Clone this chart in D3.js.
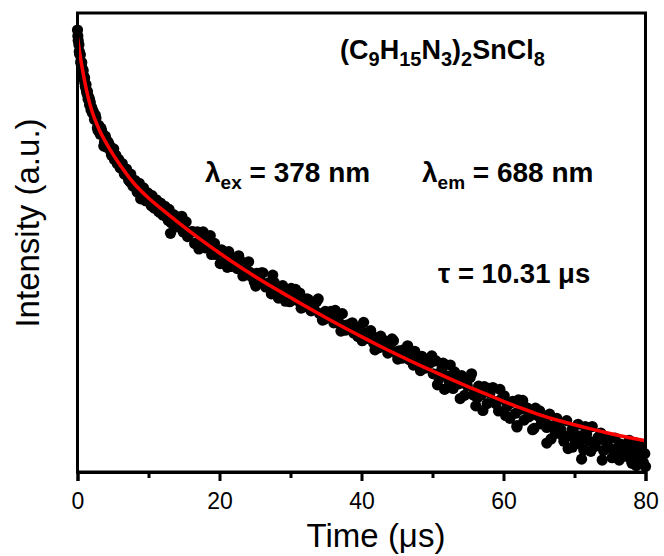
<!DOCTYPE html>
<html><head><meta charset="utf-8">
<script src="https://cdn.jsdelivr.net/npm/d3@7"></script>
<style>body{margin:0;background:#fff}svg{display:block}</style>
</head><body>
<svg id="c" width="664" height="556"></svg>
<script>
// ---------- data ----------
const xTicks = [0, 20, 40, 60, 80];
const xMinorTicks = [10, 30, 50, 70];
const xLabel = "Time (\u03bcs)";
const yLabel = "Intensity (a.u.)";

// fitted decay curve (time in µs, intensity in a.u.)
const fitTime = [0,0.5,1,1.5,2,3,4,5,6,8,10,12,14,16,18,20,22,25,28,30,32,35,38,40,42,45,48,50,52,55,58,60,62,65,68,70,72,75,78,80];
const fitIntensity = [94.6,89.5,85.2,81.6,78.8,74.8,71.8,69.2,66.9,62.8,59.7,57.1,54.6,52.2,49.9,47.7,45.6,42.6,39.8,38.0,36.2,33.6,31.1,29.5,27.9,25.6,23.4,22.0,20.6,18.6,16.7,15.4,14.2,12.5,11.1,10.3,9.5,8.4,7.4,6.8];

// measured decay points [time µs, intensity a.u.]
const measured = [
[0,96.3],[0.1,94.0],[0.2,93.1],[0.3,91.0],[0.4,90.9],[0.5,89.0],[0.6,89.2],[0.7,87.3],[0.8,87.5],[0.9,85.6],[1.0,85.9],[1.1,84.0],[1.2,84.4],[1.3,82.6],[1.4,82.9],[1.5,81.2],[1.6,81.6],[1.7,80.0],[1.8,80.5],[1.9,78.9],[2.0,79.4],
[2.2,78.6],[2.4,76.8],[2.6,77.1],[2.8,75.0],[3.0,75.5],[3.2,73.6],[3.4,74.3],[3.6,73.5],[3.7,71.0],[3.8,71.9],[4.0,72.6],[4.2,70.7],[4.4,71.5],[4.6,70.9],[4.8,69.0],[5.0,69.9],[5.2,68.1],[5.4,69.0],[5.6,67.2],[5.8,68.1],[6.0,66.3],
[6.3,67.2],[6.6,64.9],[6.9,66.0],[7.2,63.6],[7.5,64.9],[7.8,62.3],[8.1,63.5],[8.4,61.0],[8.7,62.9],[8.9,59.5],[9.0,60.4],[9.3,61.9],[9.6,59.1],[9.9,60.8],[10.2,58.6],[10.5,60.2],[10.8,57.5],[11.1,59.3],[11.4,56.8],[11.7,58.6],[12.0,56.0],[12.3,57.9],[12.6,55.4],[12.9,57.2],[13.1,52.0],[13.2,54.3],[13.5,56.1],[13.8,53.7],[14.1,55.6],
[0.05,95.0],[0.25,91.6],[0.45,89.4],[0.65,87.9],[0.85,86.3],[1.05,84.7],[1.25,83.2],[1.45,82.0],[1.7,81.1],[2.1,78.2],[2.5,77.8],[2.9,74.4],[3.3,74.9],[3.9,73.2],[4.3,71.9],[4.7,69.8],[5.1,70.4],[5.5,67.8],[5.9,67.5],[6.5,65.6],[7.0,64.6],[7.4,63.2],[7.9,63.6],[8.3,62.0],[9.2,60.2],[9.8,59.8],[10.4,58.0],[11.0,58.4],[11.6,56.6],[12.2,57.0],[12.8,54.8],[13.4,55.2],[14.0,53.4],
[14.5,54.8],[14.9,52.3],[15.3,54.5],[15.7,52.2],[16.1,52.4],[16.5,49.8],[16.9,52.3],[17.3,50.0],[17.7,52.3],[18.1,48.8],[18.5,49.9],[18.9,47.4],[19.3,49.8],[19.7,48.1],[20.1,45.4],[20.5,48.1],[20.9,46.5],[21.3,48.0],[21.7,44.8],[22.1,46.1],[22.5,44.3],[22.9,46.1],[23.3,42.7],[23.7,44.1],[24.1,45.8],[24.5,42.6],[24.9,41.4],[25.3,43.3],[25.7,41.8],[26.1,43.4],[26.5,40.3],[26.9,41.2],[27.3,38.8],[27.7,41.3],[28.1,40.4],[28.5,38.8],[28.9,40.6],[29.3,37.2],[29.7,38.6],[30.1,40.0],
[14.7,55.7],[15.5,51.3],[16.3,52.3],[17.1,48.6],[17.9,51.2],[18.7,51.5],[19.5,47.4],[20.3,48.4],[21.1,44.6],[21.9,46.3],[22.7,47.1],[23.5,42.9],[24.3,43.5],[25.1,40.5],[25.9,43.4],[26.7,40.5],[27.5,42.9],[28.3,37.9],[29.1,39.7],[29.9,37.1],
[30.5,39.0],[30.9,37.4],[31.3,39.0],[31.7,35.9],[32.1,37.1],[32.5,37.6],[32.9,35.1],[33.3,35.8],[33.7,37.2],[34.1,34.5],[34.5,33.1],[34.9,35.0],[35.3,33.9],[35.7,35.0],[36.1,32.5],[36.5,33.5],[36.9,32.4],[37.3,34.5],[37.7,30.9],[38.1,31.9],[38.5,32.3],[38.9,30.3],[39.3,30.7],[39.7,31.6],[40.1,28.6],[40.5,30.3],[40.9,29.1],[41.3,30.8],[41.7,28.1],[42.1,29.2],[42.5,27.1],[42.9,28.0],[43.3,28.6],[43.7,25.9],[44.1,26.8],[44.5,28.6],[44.9,25.9],[45.3,26.4],[45.7,24.8],[46.1,26.3],[46.5,27.5],[46.9,24.6],[47.3,23.3],[47.7,24.8],[48.1,24.0],[48.5,25.2],[48.9,22.6],[49.3,23.4],[49.7,23.8],[50.1,21.4],
[30.7,39.8],[31.5,35.7],[32.3,37.7],[33.1,35.5],[33.9,37.7],[34.7,33.2],[35.5,34.6],[36.3,35.2],[37.1,30.7],[37.9,32.0],[38.7,32.5],[39.5,29.5],[40.3,32.6],[41.1,29.7],[41.9,26.6],[42.7,29.6],[43.5,27.3],[44.3,29.0],[45.1,24.6],[45.9,26.6],[46.7,24.5],[47.5,26.3],[48.3,22.1],[49.1,23.9],[49.9,25.3],
[50.5,24.2],[50.9,20.4],[51.3,22.3],[51.7,18.0],[52.1,20.9],[52.5,23.3],[52.9,18.2],[53.3,20.6],[53.7,19.2],[54.1,21.0],[54.5,16.7],[54.9,18.8],[55.3,20.6],[55.7,16.8],[56.1,14.4],[56.5,18.7],[56.9,16.8],[57.3,18.6],[57.7,14.9],[58.1,17.2],[58.5,18.4],[58.9,14.9],[59.3,13.3],[59.7,15.9],[60.1,16.6],[60.5,14.3],[60.9,11.7],[61.3,15.4],[61.7,12.8],[61.9,9.8],[62.1,15.7],[62.5,13.7],[62.9,11.3],[63.3,14.0],[63.7,12.2],[64.1,9.2],[64.5,13.9],[64.9,12.2],[65.3,10.5],
[50.7,19.0],[51.5,23.7],[52.3,19.8],[53.1,21.8],[53.9,16.0],[54.7,19.5],[55.5,21.4],[56.3,16.1],[57.1,13.4],[57.9,18.2],[58.7,15.4],[59.5,18.0],[60.3,12.3],[61.1,15.1],[61.9,10.1],[62.7,15.6],[63.5,12.0],[64.3,9.5],[65.1,13.3],
[65.7,11.7],[66.1,9.7],[66.1,6.3],[66.5,12.6],[66.9,10.0],[67.3,8.4],[67.7,11.0],[68.1,9.2],[68.5,6.7],[68.9,11.2],[69.3,8.0],[69.7,9.4],[69.7,5.4],[70.1,6.9],[70.5,10.4],[70.9,7.9],[71.0,2.8],[71.3,4.8],[71.7,8.3],[72.1,6.7],[72.5,9.9],[72.9,5.6],[73.3,7.5],[73.7,8.5],[74.1,4.7],[74.5,6.4],[74.9,5.3],[75.3,3.1],[75.7,7.4],[76.1,5.3],[76.5,6.1],[76.7,4.4],[76.9,3.4],[77.3,4.3],[77.7,6.9],[77.9,5.0],[78.1,1.9],[78.5,4.8],[78.7,6.3],[78.9,3.2],[79.3,5.8],[79.5,3.6],[79.7,2.1],[79.9,4.0],[80.0,1.2],
[65.9,10.9],[66.7,7.2],[67.5,11.7],[68.3,8.0],[69.1,5.1],[69.9,8.5],[70.7,6.2],[71.5,9.9],[72.3,4.5],[73.1,6.7],[73.9,2.6],[74.7,7.5],[75.5,4.6],[76.3,2.6],[77.1,5.7],[77.9,2.8],[78.7,1.4],[79.5,3.7]
];

// ---------- drawing ----------
const FONT = "'Liberation Sans', Arial, Helvetica, sans-serif";
const svg = d3.select("#c");
const x = d3.scaleLinear().domain([0, 80]).range([77.5, 645.5]);
const y = d3.scaleLinear().domain([0, 100]).range([472, 13]);

// measured points
svg.append("g").selectAll("circle").data(measured).join("circle")
  .attr("cx", d => x(d[0])).attr("cy", d => y(d[1])).attr("r", 5.6).attr("fill", "#000");

// fit curve
const fit = fitTime.map((t, i) => [t, fitIntensity[i]]);
svg.append("path").datum(fit)
  .attr("d", d3.line().x(d => x(d[0])).y(d => y(d[1])).curve(d3.curveMonotoneX))
  .attr("fill", "none").attr("stroke", "#f00").attr("stroke-width", 3.5);

// frame
svg.append("rect").attr("x", x(0)).attr("y", y(100)).attr("width", x(80) - x(0)).attr("height", y(0) - y(100))
  .attr("fill", "none").attr("stroke", "#000").attr("stroke-width", 3);

// x axis major
const gx = svg.append("g").attr("transform", `translate(0,${y(0)})`)
  .call(d3.axisBottom(x).tickValues(xTicks).tickSize(9).tickFormat(d3.format("d")));
gx.select(".domain").attr("stroke-width", 3);
gx.selectAll(".tick line").attr("stroke-width", 3);
gx.selectAll(".tick text").attr("dy", null).attr("y", 37)
  .attr("font-family", FONT).attr("font-size", 23).attr("fill", "#000");
// x axis minor
const gm = svg.append("g").attr("transform", `translate(0,${y(0)})`)
  .call(d3.axisBottom(x).tickValues(xMinorTicks).tickSize(6).tickFormat(""));
gm.select(".domain").remove();
gm.selectAll(".tick line").attr("stroke-width", 3);

// axis titles
svg.append("text").attr("x", 376).attr("y", 547).attr("text-anchor", "middle")
  .attr("font-family", FONT).attr("font-size", 33).text(xLabel);
svg.append("text").attr("transform", "translate(39,223) rotate(-90)").attr("text-anchor", "middle")
  .attr("font-family", FONT).attr("font-size", 33).text(yLabel);

// annotation helper: parts = [[text, isSub], ...]
function rich(xp, yp, parts, size, subSize, shift) {
  const t = svg.append("text").attr("x", xp).attr("y", yp)
    .attr("font-family", FONT).attr("font-weight", "bold").attr("font-size", size).attr("fill", "#000");
  let cur = 0;
  parts.forEach(([s, sub]) => {
    const off = sub ? shift : 0;
    t.append("tspan").attr("dy", off - cur).attr("font-size", sub ? subSize : size).text(s);
    cur = off;
  });
  return t;
}
rich(340, 59, [["(C",0],["9",1],["H",0],["15",1],["N",0],["3",1],[")",0],["2",1],["SnCl",0],["8",1]], 27, 20, 7);
rich(205, 182, [["\u03bb",0],["ex",1],[" = 378 nm",0]], 28, 19, 7);
rich(422, 182, [["\u03bb",0],["em",1],[" = 688 nm",0]], 28, 19, 7);
rich(438, 283, [["\u03c4 = 10.31 \u03bcs",0]], 27.5, 19, 7);
</script>
</body></html>
